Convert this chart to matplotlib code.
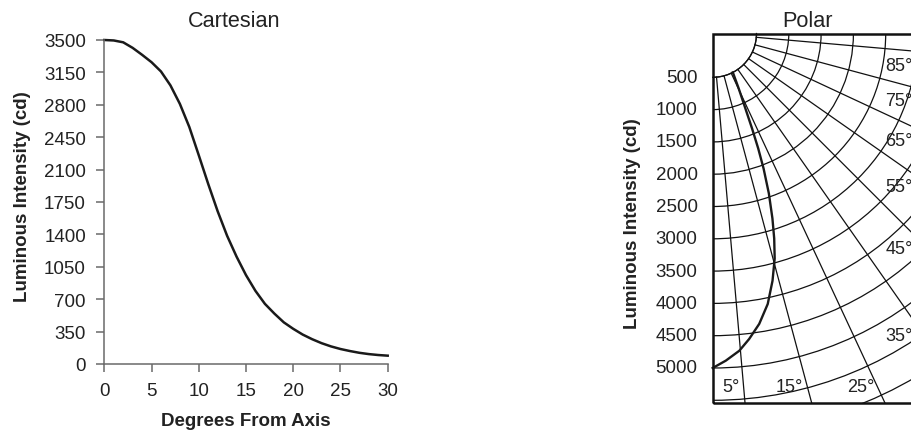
import matplotlib
matplotlib.use("Agg")
import matplotlib.pyplot as plt
from matplotlib.patches import Rectangle
import numpy as np

plt.rcParams['font.family'] = ['Liberation Sans', 'DejaVu Sans']

# --- data ---
cart_deg = list(range(31))
cart_cd = [3500, 3495, 3475, 3415, 3340, 3260, 3160, 3010, 2810, 2560, 2255,
           1945, 1650, 1385, 1160, 960, 790, 650, 545, 450, 380, 318, 268,
           225, 190, 162, 140, 121, 107, 97, 90]
cart_xticks = [0, 5, 10, 15, 20, 25, 30]
cart_yticks = [0, 350, 700, 1050, 1400, 1750, 2100, 2450, 2800, 3150, 3500]

polar_deg = [0, 2.3, 4.8, 6.8, 9.1, 11.5, 13.6, 15.4, 16.7, 17.9, 19.35,
             20.65, 21.6, 22.5, 23.55, 25.3, 27.4]
polar_cd = [5000, 4890, 4750, 4585, 4375, 4095, 3760, 3435, 3135, 2830, 2445,
            2055, 1735, 1415, 1090, 765, 500]
polar_rings = list(range(500, 8001, 500))
polar_rlabels = [500, 1000, 1500, 2000, 2500, 3000, 3500, 4000, 4500, 5000]
polar_spokes = [5, 15, 25, 35, 45, 55, 65, 75, 85]

W, H = 912, 431
ink = '#1a1a1a'
txt = '#222222'
fig = plt.figure(figsize=(W / 100, H / 100), dpi=100)


def fx(px):
    return px / W


def fy(py):
    return 1 - py / H


# ---------------- Cartesian ----------------
ax1 = fig.add_axes([fx(104.3), fy(365), fx(387.7) - fx(104.3), fy(41) - fy(365)])
ax1.plot(cart_deg, cart_cd, color=ink, lw=1.8, clip_on=False)
ax1.set_xlim(0, 30)
ax1.set_ylim(0, 3500)
ax1.set_xticks(cart_xticks)
ax1.set_yticks(cart_yticks)
for s in ['top', 'right']:
    ax1.spines[s].set_visible(False)
for s in ['left', 'bottom']:
    ax1.spines[s].set_color('#6a6a6a')
    ax1.spines[s].set_linewidth(1.1)
ax1.tick_params(direction='out', length=5.6, width=1.1, color='#6a6a6a',
                labelsize=13.5, labelcolor=txt, pad=7.6)

fig.text(fx(234), fy(26.7), 'Cartesian', ha='center', va='baseline',
         fontsize=15.6, color=txt)
fig.text(fx(23), fy(196.7), 'Luminous Intensity (cd)', rotation=90,
         ha='center', va='center', fontsize=13.5, fontweight='bold', color=txt)
fig.text(fx(245.5), fy(426.5), 'Degrees From Axis', ha='center',
         va='baseline', fontsize=13.5, fontweight='bold', color=txt)

# ---------------- Polar ----------------
cx, cy = 712.7, 34.5          # pole at top-left corner of the box
scale = 0.0646                # px per cd
r0 = -178                     # radial origin gives the hole of r=500
rmax = 8000
side = scale * (rmax - r0)    # axes square in px
boxside = 369.5

ax2 = fig.add_axes([fx(cx), fy(cy + side), side / W, side / H],
                   projection='polar')
ax2.set_theta_zero_location('S')
ax2.set_theta_direction(1)
ax2.set_thetamin(0)
ax2.set_thetamax(90)
ax2.set_rlim(500, rmax)
ax2.set_rorigin(r0)
ax2.set_thetagrids(polar_spokes, labels=[''] * len(polar_spokes))
ax2.set_rgrids(polar_rings, labels=[''] * len(polar_rings))
ax2.grid(True, color='#111111', lw=0.9)
ax2.tick_params(length=0)
ax2.patch.set_visible(False)
for name, sp in ax2.spines.items():
    if name == 'inner':
        sp.set_edgecolor('#111111')
        sp.set_linewidth(0.9)
    else:
        sp.set_edgecolor('none')
        sp.set_linewidth(0)

ax2.plot(np.radians(polar_deg), polar_cd, color=ink, lw=1.7, clip_on=False)

f = boxside / side
frame = Rectangle((0, 1 - f), f, f, transform=ax2.transAxes, fill=False,
                  lw=1.8, ec='#111111', clip_on=False, zorder=5)
ax2.add_artist(frame)

for v in polar_rlabels:
    ax2.annotate(str(v), xy=(0, v), xycoords='data', xytext=(-10.8, 0),
                 textcoords='offset points', ha='right', va='center',
                 fontsize=13.5, color=txt, annotation_clip=False)

# spoke labels: bottom row and a column on the right
bottom_pos = [(739.3, 387.7), (803.3, 387.7), (875.0, 387.7)]
right_pos = [336.7, 250.0, 187.5, 141.7, 101.0, 66.7]
for ang, (x, y) in zip(polar_spokes[:3], bottom_pos):
    fig.text(fx(x), fy(y), f'{ang}°', ha='right', va='center',
             fontsize=13, color=txt)
for ang, y in zip(polar_spokes[3:], right_pos):
    fig.text(fx(885.5), fy(y), f'{ang}°', ha='left', va='center',
             fontsize=13, color=txt)

fig.text(fx(807.5), fy(26.7), 'Polar', ha='center', va='baseline',
         fontsize=15.6, color=txt)
fig.text(fx(633), fy(224), 'Luminous Intensity (cd)', rotation=90,
         ha='center', va='center', fontsize=13.5, fontweight='bold', color=txt)

# first draw settles the polar transforms, then clip the grid to the box
fig.canvas.draw()
clip = Rectangle((0, 1 - f), f, f, transform=ax2.transAxes)
ax2.xaxis.set_clip_path(clip)
ax2.yaxis.set_clip_path(clip)

fig.savefig('out.png', dpi=100)
